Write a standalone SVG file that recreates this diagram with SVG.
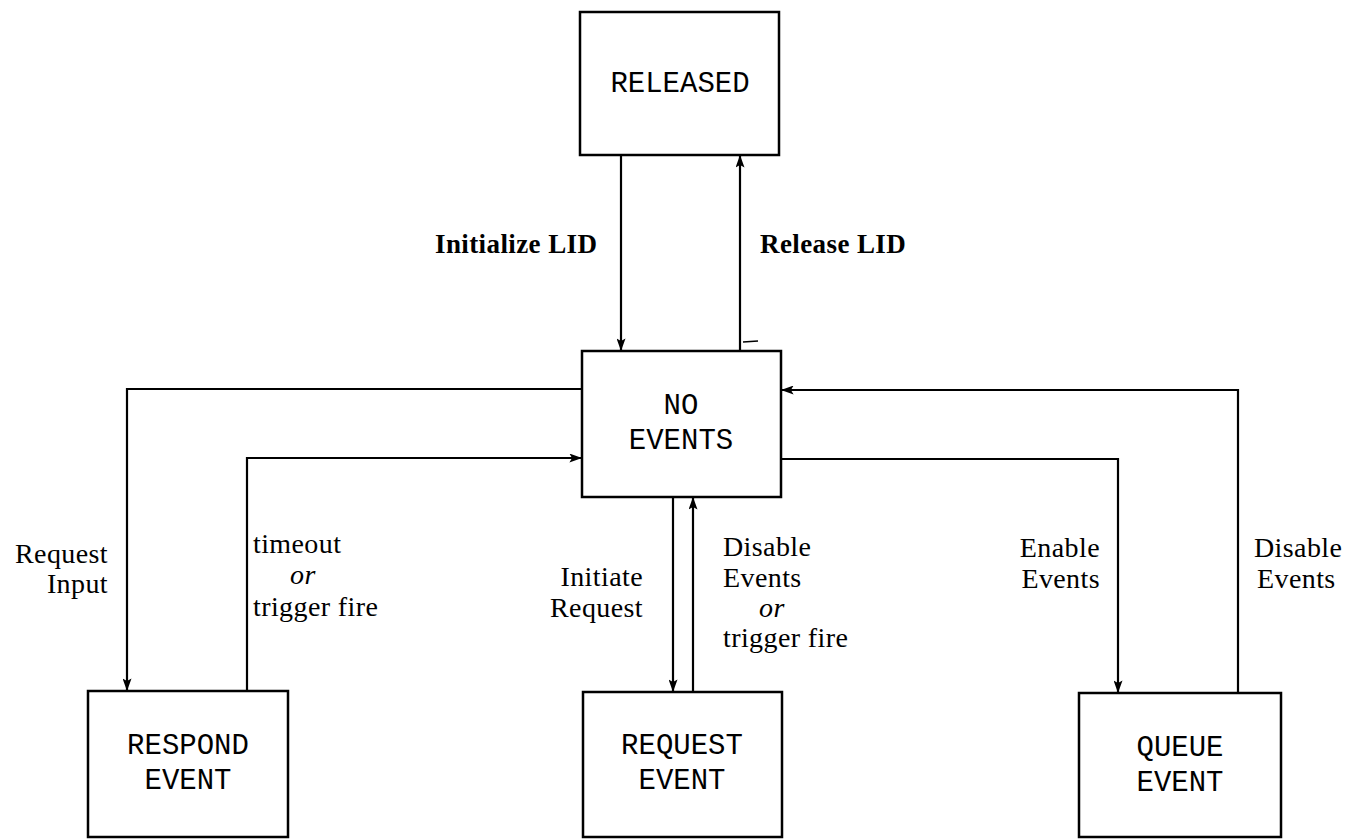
<svg xmlns="http://www.w3.org/2000/svg" width="1364" height="839" viewBox="0 0 1364 839">
<style>
.box{fill:#fff;stroke:#000;stroke-width:2.5}
.mono{font-family:"Liberation Mono","Courier New",monospace;font-size:29px;fill:#000;text-anchor:middle}
.lbl{font-family:"Liberation Serif","Times New Roman",serif;font-size:28px;letter-spacing:0.4px;fill:#000}
.b{font-weight:bold;font-size:27px}
.it{font-style:italic}
.end{text-anchor:end}
.conn{fill:none;stroke:#000;stroke-width:2.2}
</style>
<defs>
<marker id="ah" viewBox="0 0 14 10" refX="14" refY="5" markerWidth="14" markerHeight="9" markerUnits="userSpaceOnUse" orient="auto">
<path d="M0,0 L14,5 L0,10 L3,5 Z" fill="#000"/>
</marker>
</defs>
<rect width="1364" height="839" fill="#fff"/>
<g id="connectors">
<path class="conn" d="M621,155 V351" marker-end="url(#ah)"/>
<path class="conn" d="M740,351 V155" marker-end="url(#ah)"/>
<path class="conn" d="M582,389 H127 V691" marker-end="url(#ah)"/>
<path class="conn" d="M247,691 V458 H582" marker-end="url(#ah)"/>
<path class="conn" d="M673,497 V692" marker-end="url(#ah)"/>
<path class="conn" d="M693,692 V497" marker-end="url(#ah)"/>
<path class="conn" d="M781,459 H1118 V693" marker-end="url(#ah)"/>
<path class="conn" d="M1238,693 V390 H781" marker-end="url(#ah)"/>
<path d="M743,342 L758,341" stroke="#000" stroke-width="1.5"/>
</g>
<g id="labels">
<text class="lbl b" x="435" y="253">Initialize LID</text>
<text class="lbl b" x="760" y="253">Release LID</text>
<text class="lbl end" x="108" y="563">Request</text>
<text class="lbl end" x="108" y="593">Input</text>
<text class="lbl" x="253" y="553">timeout</text>
<text class="lbl it" x="290" y="584">or</text>
<text class="lbl" x="253" y="616">trigger fire</text>
<text class="lbl end" x="643" y="586">Initiate</text>
<text class="lbl end" x="643" y="617">Request</text>
<text class="lbl" x="723" y="556">Disable</text>
<text class="lbl" x="723" y="587">Events</text>
<text class="lbl it" x="759" y="617">or</text>
<text class="lbl" x="723" y="647">trigger fire</text>
<text class="lbl end" x="1100" y="557">Enable</text>
<text class="lbl end" x="1100" y="588">Events</text>
<text class="lbl" x="1254" y="557">Disable</text>
<text class="lbl" x="1257" y="588">Events</text>
</g>
<g id="released">
<rect class="box" x="580" y="12" width="199" height="143"/>
<text class="mono" x="680" y="92">RELEASED</text>
</g>
<g id="no-events">
<rect class="box" x="582" y="351" width="199" height="146"/>
<text class="mono" x="681" y="414">NO</text>
<text class="mono" x="681" y="449">EVENTS</text>
</g>
<g id="respond-event">
<rect class="box" x="88" y="691" width="200" height="146"/>
<text class="mono" x="188" y="754">RESPOND</text>
<text class="mono" x="188" y="789">EVENT</text>
</g>
<g id="request-event">
<rect class="box" x="583" y="692" width="199" height="145"/>
<text class="mono" x="682" y="754">REQUEST</text>
<text class="mono" x="682" y="789">EVENT</text>
</g>
<g id="queue-event">
<rect class="box" x="1079" y="693" width="202" height="144"/>
<text class="mono" x="1180" y="756">QUEUE</text>
<text class="mono" x="1180" y="791">EVENT</text>
</g>
</svg>
